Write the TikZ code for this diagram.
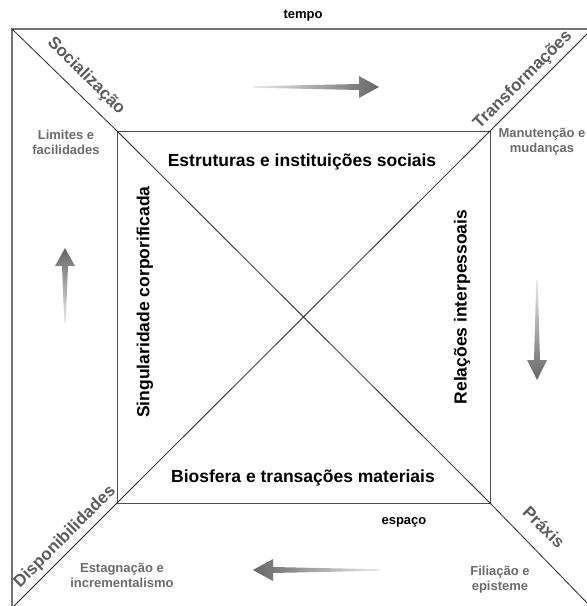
\documentclass[tikz,border=0pt]{standalone}
\usepackage{fontspec}
\setmainfont{Liberation Sans}
\usetikzlibrary{arrows.meta}

\tikzset{
    borda/.style={draw=black!55, line width=1.1pt},
    quadro/.style={draw=black!70, line width=1pt},
    diag/.style={draw=black!85, line width=0.8pt},
    titulo/.style={inner sep=0pt, text=black, font=\bfseries\fontsize{17.5}{20}\selectfont},
    canto/.style={inner sep=0pt, text=black!64, font=\bfseries\fontsize{17}{20}\selectfont},
    nota/.style={inner sep=0pt, align=center, text=black!58, font=\bfseries\fontsize{13}{15}\selectfont},
    eixo/.style={inner sep=0pt, text=black, font=\bfseries\fontsize{13}{15}\selectfont}
}

\begin{document}
\begin{tikzpicture}[x=1pt,y=-1pt]
    \useasboundingbox (0,0) rectangle (587,606);
    \clip (0,0) rectangle (587,606);

    \coordinate (A) at (12,29);
    \coordinate (B) at (592,29);
    \coordinate (C) at (592,608);
    \coordinate (D) at (12,608);
    \coordinate (a) at (117,131);
    \coordinate (b) at (490,131);
    \coordinate (c) at (490,503);
    \coordinate (d) at (117,503);

    \draw[borda] (A) -- (B) -- (C) -- (D) -- cycle;
    \draw[quadro] (a) -- (b) -- (c) -- (d) -- cycle;
    \draw[diag] (A) -- (a) -- (c) -- (C);
    \draw[diag] (B) -- (b) -- (d) -- (D);

    % setas
    \shade[left color=black!8, right color=black!60] (253,86.3) -- (359,84) -- (359,76) -- (379,87) -- (359,98) -- (359,90) -- (253,87.7) -- cycle;
    \shade[top color=black!8, bottom color=black!60] (536.3,280) -- (534,360) -- (527,360) -- (537,380) -- (547,360) -- (540,360) -- (537.7,280) -- cycle;
    \shade[right color=black!8, left color=black!60] (380,569.3) -- (273,567) -- (273,559) -- (253,570) -- (273,581) -- (273,573) -- (380,570.7) -- cycle;
    \shade[bottom color=black!8, top color=black!60] (64.3,323) -- (62,266) -- (55,266) -- (65,248) -- (75,266) -- (68,266) -- (65.7,323) -- cycle;

    \node[eixo] (tempo) at (303,16) {tempo};
    \node[eixo] (espaco) at (404,522) {espaço};

    \node[titulo] (estruturas) at (302,162) {Estruturas e instituições sociais};
    \node[titulo] (biosfera) at (303,478) {Biosfera e transações materiais};
    \node[titulo, rotate=90] (singular) at (145,302) {Singularidade corporificada};
    \node[titulo, rotate=90] (relacoes) at (462,307) {Relações interpessoais};

    \node[canto, rotate=-45] (social) at (86,76) {Socialização};
    \node[canto, rotate=45] (transf) at (523,80) {Transformações};
    \node[canto, rotate=45] (dispon) at (65,537) {Disponibilidades};
    \node[canto, rotate=-45] (praxis) at (544,527) {Práxis};

    \node[nota] (limites) at (66,142) {Limites e\\facilidades};
    \node[nota] (manut) at (542,142) {Manutenção e\\mudanças};
    \node[nota] (estag) at (122,575) {Estagnação e\\incrementalismo};
    \node[nota] (filia) at (500,580) {Filiação e\\episteme};
\end{tikzpicture}
\end{document}
